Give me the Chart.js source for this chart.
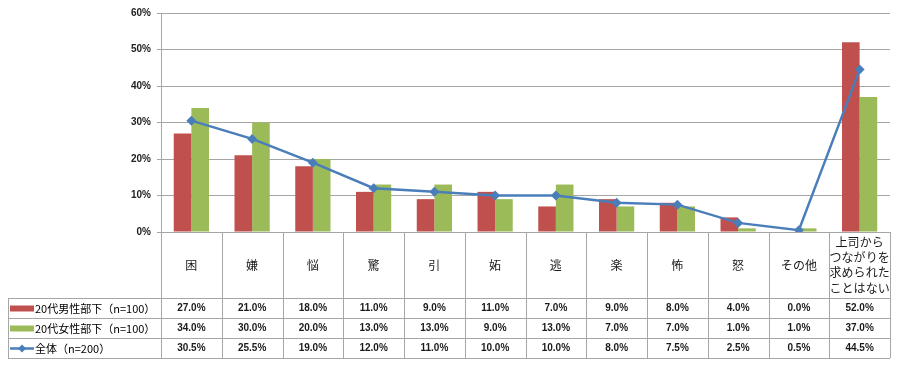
<!DOCTYPE html>
<html>
<head>
<meta charset="utf-8">
<script src="https://cdn.jsdelivr.net/npm/chart.js@4/dist/chart.umd.min.js"></script>
<style>
  html, body { margin: 0; padding: 0; background: #fff; }
  #wrap { width: 899px; height: 367px; position: relative; }
</style>
</head>
<body>
<div id="wrap"><canvas id="chart"></canvas></div>
<script>
const categories = ['困', '嫌', '悩', '驚', '引', '妬', '逃', '楽', '怖', '怒', 'その他',
  ['上司から', 'つながりを', '求められた', 'ことはない']];
const seriesNames = ['20代男性部下（n=100）', '20代女性部下（n=100）', '全体（n=200）'];
const maleValues = [27, 21, 18, 11, 9, 11, 7, 9, 8, 4, 0, 52];
const femaleValues = [34, 30, 20, 13, 13, 9, 13, 7, 7, 1, 1, 37];
const totalValues = [30.5, 25.5, 19, 12, 11, 10, 10, 8, 7.5, 2.5, 0.5, 44.5];
const yTicks = [0, 10, 20, 30, 40, 50, 60];

const RED = '#C0504D';
const GREEN = '#9BBB59';
const BLUE = '#4A7EBB';
const LINE_GRAY = '#A6A6A6';

// data table under the plot, columns follow the x scale
const tablePlugin = {
  id: 'dataTable',
  afterDraw(chart) {
    const { ctx, chartArea: area, scales: { x } } = chart;
    const n = categories.length;
    const colW = (area.right - area.left) / n;
    const catTop = area.bottom;
    const rowTop = catTop + 66;
    const rowH = 20;
    const tableLeft = 8;
    const rows = [maleValues, femaleValues, totalValues];

    ctx.save();
    ctx.strokeStyle = LINE_GRAY;
    ctx.lineWidth = 1;
    // horizontal rules
    for (let r = 0; r <= rows.length; r++) {
      const y = Math.round(rowTop + r * rowH) + 0.5;
      ctx.beginPath();
      ctx.moveTo(tableLeft, y);
      ctx.lineTo(area.right, y);
      ctx.stroke();
    }
    // left border of the row-label column
    ctx.beginPath();
    ctx.moveTo(tableLeft + 0.5, rowTop);
    ctx.lineTo(tableLeft + 0.5, rowTop + rows.length * rowH);
    ctx.stroke();
    // column lines
    for (let i = 0; i <= n; i++) {
      const xx = Math.round(area.left + i * colW) + 0.5;
      ctx.beginPath();
      ctx.moveTo(xx, catTop);
      ctx.lineTo(xx, rowTop + rows.length * rowH);
      ctx.stroke();
    }

    // category labels
    ctx.fillStyle = '#1a1a1a';
    ctx.textAlign = 'center';
    ctx.textBaseline = 'middle';
    ctx.font = '12px "Noto Sans CJK JP"';
    const catMid = catTop + 33;
    categories.forEach((c, i) => {
      const cx = x.getPixelForValue(i);
      const lines = Array.isArray(c) ? c : [c];
      const lh = 15.3;
      lines.forEach((t, k) => {
        ctx.fillText(t, cx, catMid + (k - (lines.length - 1) / 2) * lh);
      });
    });

    // values
    ctx.font = 'bold 10px "Liberation Sans"';
    rows.forEach((vals, r) => {
      const cy = rowTop + r * rowH + rowH / 2 + 0.5;
      vals.forEach((v, i) => {
        ctx.fillText(v.toFixed(1) + '%', x.getPixelForValue(i), cy);
      });
    });

    // row labels with legend keys
    ctx.textAlign = 'left';
    ctx.font = '11px "Noto Sans CJK JP"';
    ctx.fillStyle = '#000';
    const keyX = 10, keyW = 24;
    rows.forEach((vals, r) => {
      const cy = rowTop + r * rowH + rowH / 2 + 0.5;
      if (r === 0 || r === 1) {
        ctx.fillStyle = r === 0 ? RED : GREEN;
        ctx.fillRect(keyX, cy - 3, keyW, 6);
      } else {
        ctx.strokeStyle = BLUE;
        ctx.lineWidth = 2.5;
        ctx.beginPath();
        ctx.moveTo(keyX, cy);
        ctx.lineTo(keyX + keyW, cy);
        ctx.stroke();
        ctx.fillStyle = BLUE;
        ctx.beginPath();
        const mx = keyX + keyW / 2;
        ctx.moveTo(mx, cy - 4);
        ctx.lineTo(mx + 4, cy);
        ctx.lineTo(mx, cy + 4);
        ctx.lineTo(mx - 4, cy);
        ctx.closePath();
        ctx.fill();
      }
      ctx.fillStyle = '#000';
      ctx.fillText(seriesNames[r], keyX + keyW + 1, cy);
    });
    ctx.restore();
  }
};

new Chart(document.getElementById('chart'), {
  data: {
    labels: categories.map(c => Array.isArray(c) ? c.join('') : c),
    datasets: [
      {
        type: 'line',
        label: seriesNames[2],
        data: totalValues,
        borderColor: BLUE,
        backgroundColor: BLUE,
        borderWidth: 2.5,
        pointStyle: 'rectRot',
        pointRadius: 5,
        pointBorderWidth: 0,
        tension: 0,
        order: 0
      },
      {
        type: 'bar',
        label: seriesNames[0],
        data: maleValues,
        backgroundColor: RED,
        categoryPercentage: 0.58,
        barPercentage: 1,
        order: 1
      },
      {
        type: 'bar',
        label: seriesNames[1],
        data: femaleValues,
        backgroundColor: GREEN,
        categoryPercentage: 0.58,
        barPercentage: 1,
        order: 1
      }
    ]
  },
  options: {
    responsive: true,
    maintainAspectRatio: false,
    animation: false,
    layout: { padding: { top: 13, right: 9, left: 0, bottom: 0 } },
    plugins: { legend: { display: false }, tooltip: { enabled: false } },
    scales: {
      x: {
        grid: { display: false },
        border: { display: false },
        ticks: { display: false },
        afterFit(scale) { scale.height = 135; }
      },
      y: {
        min: 0,
        max: 60,
        afterBuildTicks(scale) { scale.ticks = yTicks.map(v => ({ value: v })); },
        grid: { color: LINE_GRAY, tickLength: 4 },
        border: { color: LINE_GRAY },
        ticks: {
          padding: 6,
          color: '#222',
          font: { family: 'Liberation Sans', size: 10, weight: 'bold' },
          callback: v => v + '%'
        },
        afterFit(scale) { scale.width = 161; }
      }
    }
  },
  plugins: [tablePlugin]
});
</script>
</body>
</html>
